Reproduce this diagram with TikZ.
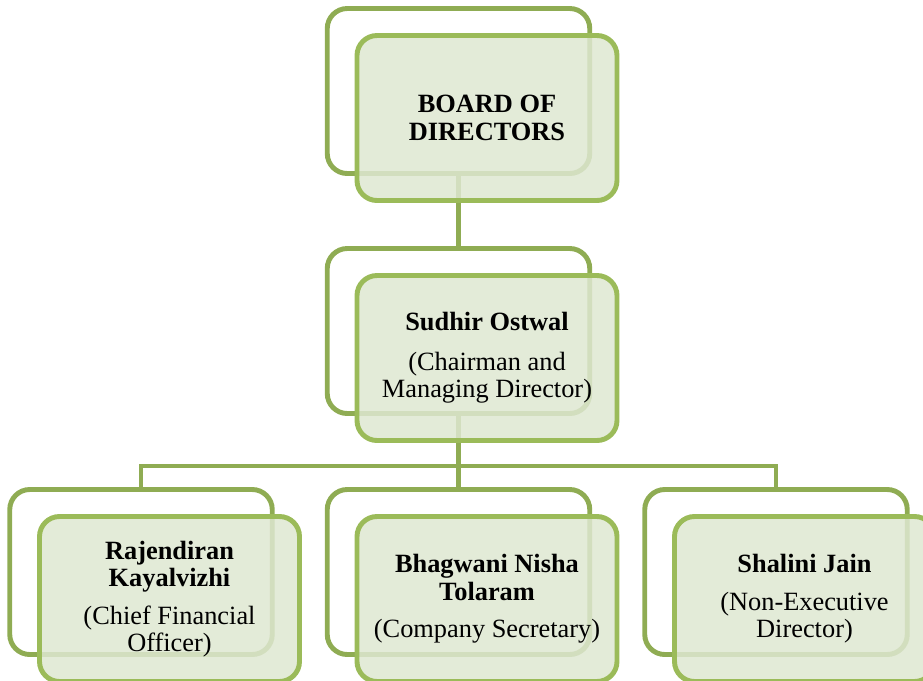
\documentclass[tikz,border=0pt]{standalone}
\usepackage{fontspec}
\setmainfont{Liberation Serif}
\usetikzlibrary{positioning}

\definecolor{backgreen}{RGB}{143,172,83}
\definecolor{frontgreen}{RGB}{155,187,89}
\definecolor{fillgreen}{RGB}{222,231,209}

\begin{document}
\begin{tikzpicture}[
  backbox/.style={rectangle, rounded corners=0.4cm, draw=backgreen, line width=2.8pt,
    minimum width=5.25cm, minimum height=3.3cm},
  frontbox/.style={rectangle, rounded corners=0.4cm, draw=frontgreen, line width=2.8pt,
    fill=fillgreen, fill opacity=0.85, text opacity=1, minimum width=5.2cm, minimum height=3.3cm,
    align=center, font=\fontsize{15}{15.5}\selectfont, xshift=0.57cm, yshift=-0.54cm},
  link/.style={draw=backgreen, line width=2.8pt}]
 \useasboundingbox (0,0) rectangle (18.46,-13.62);

 \node[backbox] (boardb) at (9.17,-1.82) {};
 \node[backbox] (chairb) at (9.17,-6.62) {};
 \node[backbox] (cfob) at (2.82,-11.44) {};
 \node[backbox] (cosb) at (9.17,-11.44) {};
 \node[backbox] (nedb) at (15.52,-11.44) {};

 \coordinate[below=1cm of chairb.south] (bus);
 \draw[link] (boardb.south) -- (chairb.north);
 \draw[link] (chairb.south) -- (cosb.north);
 \draw[link] (cfob.north) |- (bus) -| (nedb.north);

 \node[frontbox] (board) at (boardb) {\textbf{BOARD OF}\\\textbf{DIRECTORS}};
 \node[frontbox] (chair) at (chairb) {\textbf{Sudhir Ostwal}\\[7pt](Chairman and\\Managing Director)};
 \node[frontbox] (cfo) at (cfob) {\textbf{Rajendiran}\\\textbf{Kayalvizhi}\\[6pt](Chief Financial\\Officer)};
 \node[frontbox] (cos) at (cosb) {\textbf{Bhagwani Nisha}\\\textbf{Tolaram}\\[6pt](Company Secretary)};
 \node[frontbox] (ned) at (nedb) {\textbf{Shalini Jain}\\[6pt](Non-Executive\\Director)};
\end{tikzpicture}
\end{document}
